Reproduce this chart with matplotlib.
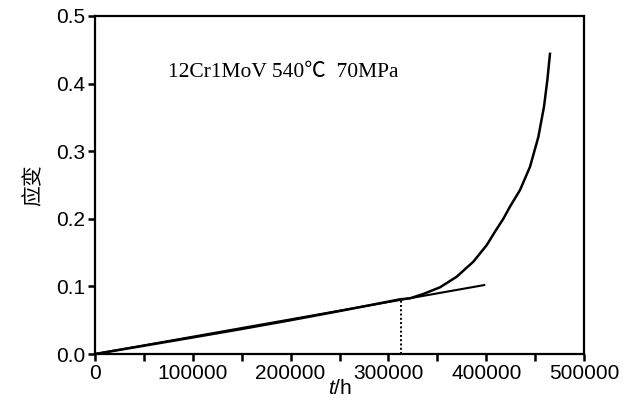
import matplotlib.pyplot as plt

plt.rcParams['font.family'] = ['Liberation Sans', 'Noto Sans CJK SC', 'DejaVu Sans']
plt.rcParams['mathtext.fontset'] = 'custom'
plt.rcParams['mathtext.it'] = 'Liberation Sans:italic'
plt.rcParams['mathtext.rm'] = 'Liberation Sans'

# creep curve
creep_t = [0, 50000, 100000, 150000, 200000, 250000, 311900, 322100, 335700,
           352800, 369800, 386800, 400500, 409000, 417500, 424300, 434600,
           444800, 453300, 459100, 462500, 465200]
creep_eps = [0, 0.0122, 0.0245, 0.037, 0.050, 0.0635, 0.0809, 0.0824, 0.0888,
             0.0987, 0.1143, 0.1365, 0.161, 0.181, 0.200, 0.218, 0.2426,
             0.277, 0.321, 0.366, 0.405, 0.444]

# steady-state tangent line
tangent_t = [0, 398000]
tangent_eps = [0, 0.102]

# marker of the end of steady creep
mark_t = 313000
mark_eps = 0.081

fig = plt.figure(figsize=(6.35, 4.07), dpi=100)
ax = fig.add_axes([0.1496, 0.1302, 0.7701, 0.8305])

ax.plot(creep_t, creep_eps, color='black', lw=1.8)
ax.plot(tangent_t, tangent_eps, color='black', lw=1.5)
ax.plot([mark_t, mark_t], [0, mark_eps], color='black', lw=1.4, ls=(0, (1, 1.2)))

ax.set_xlim(0, 500000)
ax.set_ylim(0, 0.5)
ax.set_xticks([0, 100000, 200000, 300000, 400000, 500000])
ax.set_xticks([50000, 150000, 250000, 350000, 450000], minor=True)
ax.set_yticks([0.0, 0.1, 0.2, 0.3, 0.4, 0.5])
ax.set_yticklabels(['0.0', '0.1', '0.2', '0.3', '0.4', '0.5'])
ax.tick_params(which='both', direction='out', length=5, width=1.8, labelsize=15, pad=2)
for s in ax.spines.values():
    s.set_linewidth(1.6)

ax.set_xlabel(r'$t$/h', fontsize=15, labelpad=-3)
ax.set_ylabel('应变', fontsize=15, family=['Noto Sans CJK SC'], labelpad=8)

ax.text(74600, 0.417, '12Cr1MoV 540℃  70MPa', fontsize=15.5, va='center',
        family=['Liberation Serif', 'Noto Sans CJK SC'])

fig.savefig('out.png', dpi=100)
